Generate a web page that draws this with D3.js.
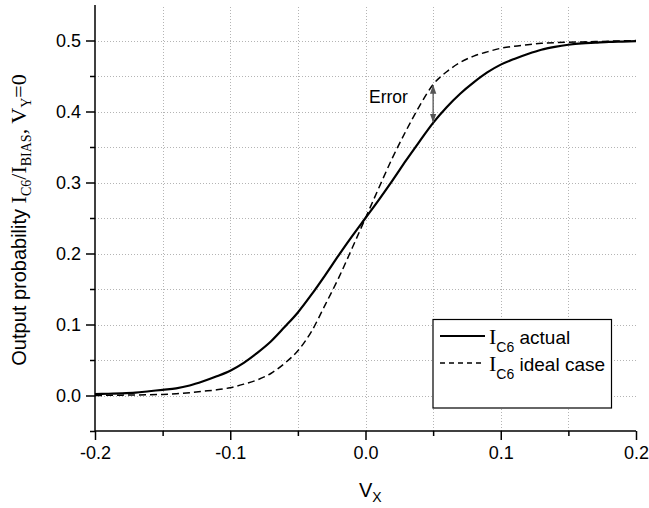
<!DOCTYPE html>
<html>
<head>
<meta charset="utf-8">
<script src="https://cdn.jsdelivr.net/npm/d3@7"></script>
<style>
  body { margin: 0; background: #fff; }
  svg { display: block; }
</style>
</head>
<body>
<svg id="chart" width="649" height="508"></svg>
<script>
// ---- data ----
const vx = [-0.20,-0.19,-0.18,-0.17,-0.16,-0.15,-0.14,-0.13,-0.12,-0.11,-0.10,-0.09,-0.08,-0.07,-0.06,-0.05,-0.04,-0.03,-0.02,-0.01,
            0.00,0.01,0.02,0.03,0.04,0.05,0.06,0.07,0.08,0.09,0.10,0.11,0.12,0.13,0.14,0.15,0.16,0.17,0.18,0.19,0.20];
const actual = [0.002,0.0025,0.003,0.004,0.006,0.008,0.010,0.014,0.020,0.027,0.035,0.046,0.060,0.076,0.096,0.117,0.142,0.169,0.197,0.224,
                0.250,0.276,0.303,0.331,0.358,0.384,0.406,0.425,0.441,0.455,0.466,0.474,0.481,0.487,0.491,0.494,0.496,0.497,0.498,0.4985,0.499];
const ideal = [0.000,0.0003,0.0005,0.0008,0.001,0.0015,0.0025,0.004,0.006,0.008,0.011,0.016,0.022,0.031,0.045,0.063,0.090,0.127,0.165,0.207,
               0.250,0.293,0.335,0.373,0.408,0.438,0.456,0.469,0.478,0.484,0.489,0.492,0.494,0.496,0.497,0.4975,0.498,0.4985,0.499,0.4995,0.500];
const xMajorTicks = [-0.2,-0.1,0.0,0.1,0.2];
const xMinorTicks = [-0.15,-0.05,0.05,0.15];
const yMajorTicks = [0.0,0.1,0.2,0.3,0.4,0.5];
const yMinorTicks = [-0.05,0.05,0.15,0.25,0.35,0.45];
const xGrid = [-0.15,-0.1,-0.05,0.0,0.05,0.1,0.15];
const yGrid = [0.0,0.05,0.1,0.15,0.2,0.25,0.3,0.35,0.4,0.45,0.5];
const seriesNames = ["actual", "ideal case"];
const errorAt = 0.05;
const errorFrom = 0.438, errorTo = 0.384;

// ---- layout ----
const svg = d3.select("#chart");
const X0 = 95, X1 = 636, Y0 = 431, Y1 = 5;
const x = d3.scaleLinear().domain([-0.2, 0.2]).range([X0, X1]);
const y = d3.scaleLinear().domain([-0.05, 0.55]).range([Y0, Y1]);
const sans = "'Liberation Sans', Arial, sans-serif";
const serif = "'Liberation Serif', 'Times New Roman', serif";
const fmt = d => d.toFixed(1);

// grid
const grid = svg.append("g").attr("stroke", "#b4b4b4").attr("stroke-width", 1).attr("stroke-dasharray", "1,2");
grid.selectAll(".gx").data(xGrid).join("line")
  .attr("x1", d => Math.round(x(d)) + 0.5).attr("x2", d => Math.round(x(d)) + 0.5)
  .attr("y1", Y0).attr("y2", Y1);
grid.selectAll(".gy").data(yGrid).join("line")
  .attr("y1", d => Math.round(y(d)) + 0.5).attr("y2", d => Math.round(y(d)) + 0.5)
  .attr("x1", X0).attr("x2", X1);

// axes
const xAxis = svg.append("g").attr("transform", `translate(0,${Y0})`)
  .call(d3.axisBottom(x).tickValues(xMajorTicks).tickSize(9).tickPadding(6).tickFormat(fmt));
svg.append("g").attr("transform", `translate(0,${Y0})`)
  .call(d3.axisBottom(x).tickValues(xMinorTicks).tickSize(5).tickFormat(""))
  .call(g => g.select(".domain").remove());
const yAxis = svg.append("g").attr("transform", `translate(${X0},0)`)
  .call(d3.axisLeft(y).tickValues(yMajorTicks).tickSize(9).tickPadding(5).tickFormat(fmt));
svg.append("g").attr("transform", `translate(${X0},0)`)
  .call(d3.axisLeft(y).tickValues(yMinorTicks).tickSize(5).tickFormat(""))
  .call(g => g.select(".domain").remove());
svg.selectAll(".domain").attr("stroke", "#000").attr("stroke-width", 1.5);
svg.selectAll(".tick line").attr("stroke", "#000").attr("stroke-width", 1.5);
svg.selectAll(".tick text").attr("font-family", sans).attr("font-size", 18).attr("fill", "#000");
xAxis.select(".domain").attr("d", `M${X0},0H${X1}`);
yAxis.select(".domain").attr("d", `M0,${Y0}V${Y1}`);

// curves
const pts = arr => vx.map((v, i) => [v, arr[i]]);
const line = d3.line().x(d => x(d[0])).y(d => y(d[1])).curve(d3.curveMonotoneX);
svg.append("path").datum(pts(ideal)).attr("d", line)
  .attr("fill", "none").attr("stroke", "#000").attr("stroke-width", 1.5).attr("stroke-dasharray", "7,4");
svg.append("path").datum(pts(actual)).attr("d", line)
  .attr("fill", "none").attr("stroke", "#000").attr("stroke-width", 2.2);

// error arrow
const defs = svg.append("defs");
defs.append("marker").attr("id", "ah").attr("viewBox", "0 0 10 10").attr("refX", 9).attr("refY", 5)
  .attr("markerWidth", 7).attr("markerHeight", 7).attr("orient", "auto-start-reverse")
  .append("path").attr("d", "M0,1.5L10,5L0,8.5Z").attr("fill", "#555");
svg.append("line")
  .attr("x1", x(errorAt)).attr("x2", x(errorAt))
  .attr("y1", y(errorFrom) + 1).attr("y2", y(errorTo) - 1)
  .attr("stroke", "#555").attr("stroke-width", 1.3)
  .attr("marker-start", "url(#ah)").attr("marker-end", "url(#ah)");
svg.append("text").attr("x", 369).attr("y", 103)
  .attr("font-family", sans).attr("font-size", 17.5).attr("fill", "#000").text("Error");

// x axis title: V centred under 0.0, subscript to the right
const xt = svg.append("text").attr("x", x(0) - 6.5).attr("y", 497)
  .attr("font-family", sans).attr("font-size", 20).attr("fill", "#000");
xt.append("tspan").text("V");
xt.append("tspan").attr("font-size", 14).attr("dy", 5).text("X");

// y axis title
const yt = svg.append("text").attr("transform", `translate(26,${(Y0 + Y1) / 2 + 2}) rotate(-90)`)
  .attr("text-anchor", "middle").attr("font-family", sans).attr("font-size", 20).attr("fill", "#000");
yt.append("tspan").text("Output probability ");
const serifParts = [
  { t: "I", s: 22, dy: 0 }, { t: "C6", s: 14, dy: 5 }, { t: "/I", s: 22, dy: -5 },
  { t: "BIAS", s: 14, dy: 5 }, { t: ", V", s: 22, dy: -5 }, { t: "Y", s: 14, dy: 5 }, { t: "=0", s: 22, dy: -5 }
];
serifParts.forEach(p => yt.append("tspan").attr("font-family", serif)
  .attr("font-size", p.s).attr("dy", p.dy).text(p.t));

// legend
const lg = svg.append("g");
lg.append("rect").attr("x", 433).attr("y", 319.5).attr("width", 178.5).attr("height", 88.5)
  .attr("fill", "#fff").attr("stroke", "#000").attr("stroke-width", 1.2);
const legendRows = [
  { name: seriesNames[0], dash: null, w: 2.2, ly: 336 },
  { name: seriesNames[1], dash: "5,4", w: 1.5, ly: 363 }
];
legendRows.forEach(r => {
  lg.append("line").attr("x1", 440).attr("x2", 485).attr("y1", r.ly).attr("y2", r.ly)
    .attr("stroke", "#000").attr("stroke-width", r.w).attr("stroke-dasharray", r.dash);
  const t = lg.append("text").attr("x", 489).attr("y", r.ly + 8).attr("fill", "#000");
  t.append("tspan").attr("font-family", serif).attr("font-size", 22).text("I");
  t.append("tspan").attr("font-family", sans).attr("font-size", 14).attr("dy", 8).text("C6");
  t.append("tspan").attr("font-family", sans).attr("font-size", 19).attr("dy", -8).text(" " + r.name);
});
</script>
</body>
</html>
